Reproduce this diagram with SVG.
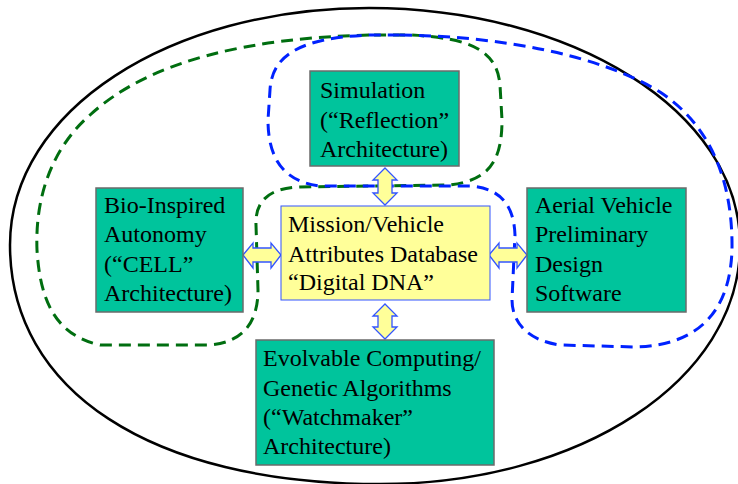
<svg xmlns="http://www.w3.org/2000/svg" width="738" height="484" viewBox="0 0 738 484">
<style>
.box{fill:#00C49C;stroke:#6b6b6b;stroke-width:1.5}
.db{fill:#FFFF99;stroke:#3355ff;stroke-width:1}
.arr{fill:#FFFF99;stroke:#3355ff;stroke-width:1.3}
.grp{fill:none;stroke-width:3;stroke-dasharray:12 7}
</style>
<rect width="738" height="484" fill="#fff"/>
<g id="boundary">
<path d="M 10,245 C 10,110 170,8 369,8 C 570,8 740,110 740,245 C 740,380 580,484 380,484 C 150,484 10,390 10,245 Z" fill="none" stroke="#000" stroke-width="2.5"/>
</g>
<g id="groups">
<path class="grp" stroke="#006e10" d="M 369,35 C 250,38 150,60 90,115 C 50,150 35,200 37,250 C 40,300 55,335 100,345 L 210,345 C 245,342 258,320 258,290 L 256,225 C 255,200 270,188 300,187 L 450,185 C 490,180 502,160 502,120 L 500,85 C 497,50 470,38 410,35 Z"/>
<path class="grp" stroke="#0022ff" d="M 400,35 C 500,36 600,55 660,92 C 710,125 733,180 732,250 C 730,310 700,345 636,347 L 560,345 C 525,340 512,320 512,300 L 515,235 C 514,205 500,188 470,186 L 320,186 C 285,182 268,160 268,120 L 270,90 C 272,55 300,38 369,35 Z"/>
</g>
<g id="connectors">
<path class="arr" d="M385,168 L397,180 L392,180 L392,193 L397,193 L385,205 L373,193 L378,193 L378,180 L373,180 Z"/>
<path class="arr" d="M385,304 L397,316 L392,316 L392,327 L397,327 L385,339 L373,327 L378,327 L378,316 L373,316 Z"/>
<path class="arr" d="M243,255 L253,243 L253,248 L271,248 L271,243 L281,255 L271,268 L271,262 L253,262 L253,268 Z"/>
<path class="arr" d="M489,255 L499,243 L499,248 L517,248 L517,243 L527,255 L517,268 L517,262 L499,262 L499,268 Z"/>
</g>
<g id="simulation">
<rect class="box" x="310" y="71" width="149" height="95"/>
<text x="320" y="98" font-size="24" font-family="Times New Roman" style="font-family:'Times New Roman','Liberation Serif',serif">Simulation</text>
<text x="320" y="128" font-size="24" font-family="Times New Roman" style="font-family:'Times New Roman','Liberation Serif',serif">(“Reflection”</text>
<text x="320" y="157" font-size="24" font-family="Times New Roman" style="font-family:'Times New Roman','Liberation Serif',serif">Architecture)</text>
</g>
<g id="bio">
<rect class="box" x="96" y="188" width="147" height="124"/>
<text x="104" y="213" font-size="24" font-family="Times New Roman" style="font-family:'Times New Roman','Liberation Serif',serif">Bio-Inspired</text>
<text x="104" y="242" font-size="24" font-family="Times New Roman" style="font-family:'Times New Roman','Liberation Serif',serif">Autonomy</text>
<text x="104" y="272" font-size="24" font-family="Times New Roman" style="font-family:'Times New Roman','Liberation Serif',serif">(“CELL”</text>
<text x="104" y="301" font-size="24" font-family="Times New Roman" style="font-family:'Times New Roman','Liberation Serif',serif">Architecture)</text>
</g>
<g id="database">
<rect class="db" x="281" y="206" width="209" height="94"/>
<text x="288" y="232" font-size="24" font-family="Times New Roman" style="font-family:'Times New Roman','Liberation Serif',serif">Mission/Vehicle</text>
<text x="288" y="262" font-size="24" font-family="Times New Roman" style="font-family:'Times New Roman','Liberation Serif',serif">Attributes Database</text>
<text x="288" y="290" font-size="24" font-family="Times New Roman" style="font-family:'Times New Roman','Liberation Serif',serif">“Digital DNA”</text>
</g>
<g id="aerial">
<rect class="box" x="527" y="188" width="159" height="124"/>
<text x="535" y="213" font-size="24" font-family="Times New Roman" style="font-family:'Times New Roman','Liberation Serif',serif">Aerial Vehicle</text>
<text x="535" y="242" font-size="24" font-family="Times New Roman" style="font-family:'Times New Roman','Liberation Serif',serif">Preliminary</text>
<text x="535" y="272" font-size="24" font-family="Times New Roman" style="font-family:'Times New Roman','Liberation Serif',serif">Design</text>
<text x="535" y="301" font-size="24" font-family="Times New Roman" style="font-family:'Times New Roman','Liberation Serif',serif">Software</text>
</g>
<g id="evolvable">
<rect class="box" x="256" y="340" width="238" height="125"/>
<text x="263" y="366" font-size="24" font-family="Times New Roman" style="font-family:'Times New Roman','Liberation Serif',serif">Evolvable Computing/</text>
<text x="263" y="396" font-size="24" font-family="Times New Roman" style="font-family:'Times New Roman','Liberation Serif',serif">Genetic Algorithms</text>
<text x="263" y="425" font-size="24" font-family="Times New Roman" style="font-family:'Times New Roman','Liberation Serif',serif">(“Watchmaker”</text>
<text x="263" y="454" font-size="24" font-family="Times New Roman" style="font-family:'Times New Roman','Liberation Serif',serif">Architecture)</text>
</g>
</svg>
